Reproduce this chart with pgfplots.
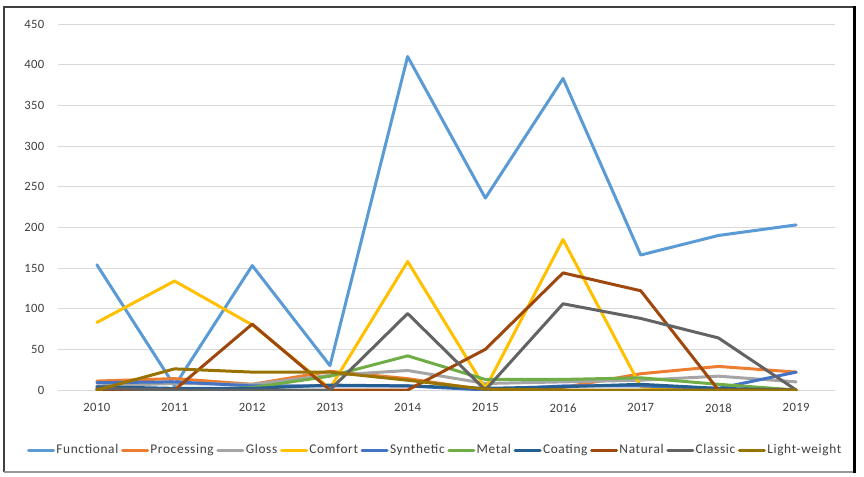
\documentclass[border=0pt]{standalone}
\usepackage{fontspec}
\setmainfont{Carlito}
\newfontfamily\legfont[LetterSpace=5]{Carlito}
\newfontfamily\tickfont[LetterSpace=3]{Carlito}
\usepackage{pgfplots}
\usepackage{pgfplotstable}
\pgfplotsset{compat=1.18}
\definecolor{cFunctional}{HTML}{5B9BD5}
\definecolor{cProcessing}{HTML}{ED7D31}
\definecolor{cGloss}{HTML}{A5A5A5}
\definecolor{cComfort}{HTML}{FFC000}
\definecolor{cSynthetic}{HTML}{4472C4}
\definecolor{cMetal}{HTML}{70AD47}
\definecolor{cCoating}{HTML}{255E91}
\definecolor{cNatural}{HTML}{9E480E}
\definecolor{cClassic}{HTML}{636363}
\definecolor{cLight}{HTML}{997300}
\definecolor{gridgray}{HTML}{D9D9D9}
\definecolor{txtgray}{HTML}{404040}
\pgfplotstableread{
year Functional Processing Gloss Comfort Synthetic Metal Coating Natural Classic Lightweight
2010 154 11 5 83 9 1 4 1 2 0
2011 5 14 8 134 10 0 2 0 0 26
2012 153 7 7 80 5 3 2 81 0 22
2013 30 23 18 2 5 17 6 0 0 22
2014 410 14 24 158 5 42 5 0 94 12
2015 236 0 8 2 0 13 2 50 0 1
2016 383 3 10 185 5 13 4 144 106 0
2017 166 20 12 4 5 15 7 122 88 0
2018 190 29 17 0 2 7 2 0 64 0
2019 203 22 10 0 22 0 0 0 0 0
}\datatable
\begin{document}
\begin{tikzpicture}
\begin{scope}[x=0.75pt,y=0.75pt]
\path[fill=white] (0,0) rectangle (864,476);
\end{scope}
\begin{axis}[
  at={(43.5pt,64.5pt)}, anchor=south west,
  scale only axis, width=582.75pt, height=274.5pt,
  xmin=2009.5, xmax=2019.5, ymin=0, ymax=450,
  xtick={2010,2011,...,2019}, ytick={0,50,...,450},
  axis line style={draw=none},
  major tick length=0pt,
  ymajorgrids, grid style={color=gridgray, line width=0.75pt},
  /pgf/number format/assume math mode=true,
  ticklabel style={font=\tickfont\fontsize{9.5}{11}\selectfont, text=txtgray},
  xticklabel style={/pgf/number format/1000 sep=, yshift=-6.7pt},
  yticklabel style={xshift=-6.75pt},
  legend style={at={(0.485,-0.164)}, anchor=center, draw=none, fill=none,
    font=\legfont\fontsize{10}{12}\selectfont, text=txtgray,
    /tikz/every even column/.append style={column sep=1pt},
    nodes={inner xsep=1pt}},
  legend columns=10,
  legend image code/.code={\draw[#1] (0pt,0pt) -- (18.75pt,0pt);},
  every axis plot/.append style={line width=2.25pt, line join=round, line cap=round, mark=none},
]
\addplot[cFunctional] table[x=year,y=Functional] {\datatable};
\addlegendentry{Functional}
\addplot[cProcessing] table[x=year,y=Processing] {\datatable};
\addlegendentry{Processing}
\addplot[cGloss] table[x=year,y=Gloss] {\datatable};
\addlegendentry{Gloss}
\addplot[cComfort] table[x=year,y=Comfort] {\datatable};
\addlegendentry{Comfort}
\addplot[cSynthetic] table[x=year,y=Synthetic] {\datatable};
\addlegendentry{Synthetic}
\addplot[cMetal] table[x=year,y=Metal] {\datatable};
\addlegendentry{Metal}
\addplot[cCoating] table[x=year,y=Coating] {\datatable};
\addlegendentry{Coating}
\addplot[cNatural] table[x=year,y=Natural] {\datatable};
\addlegendentry{Natural}
\addplot[cClassic] table[x=year,y=Classic] {\datatable};
\addlegendentry{Classic}
\addplot[cLight] table[x=year,y=Lightweight] {\datatable};
\addlegendentry{Light-weight}
\end{axis}
\begin{scope}[x=0.75pt,y=0.75pt]
\draw[color=txtgray, line width=1.5] (3.5,4) -- (3.5,469) -- (854,469);
\draw[color=gridgray!70!black, line width=1.5] (3.5,4) -- (853,4);
\draw[black, line width=2.25] (854.5,470) -- (854.5,3);
\path (0,0) rectangle (864,476);
\end{scope}
\end{tikzpicture}
\end{document}
